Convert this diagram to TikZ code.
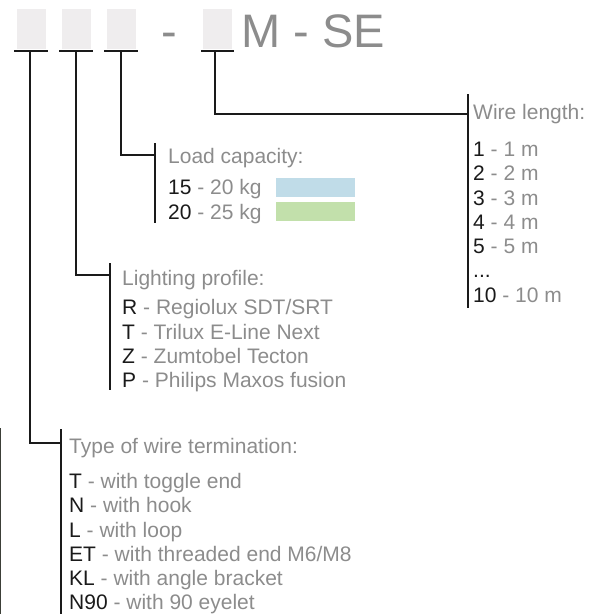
\documentclass[tikz,border=0pt]{standalone}
\usepackage{fontspec}
\setmainfont{Liberation Sans}
\definecolor{txtgray}{HTML}{8C8C8C}
\definecolor{ink}{HTML}{1A1A1A}
\definecolor{boxgray}{HTML}{EFEDEE}
\definecolor{swblue}{HTML}{C0DCE8}
\definecolor{swgreen}{HTML}{C2E0AB}
\definecolor{edgeline}{HTML}{3C3F38}
\newcommand{\cd}[1]{\textcolor{ink}{#1}}
\tikzset{
  slot/.style={fill=boxgray, draw=none, minimum width=29pt, minimum height=40pt, inner sep=0pt},
  wire/.style={draw=ink, line width=1.8pt},
  bar/.style={draw=ink, line width=2pt},
  lbl/.style={anchor=base west, inner sep=0pt, font=\fontsize{21}{25}\selectfont, text=txtgray},
  big/.style={anchor=base west, inner sep=0pt, font=\fontsize{47}{50}\selectfont, text=txtgray},
  swatch/.style={draw=none, minimum width=79pt, minimum height=19pt, inner sep=0pt}
}
\begin{document}
\begin{tikzpicture}[x=1pt,y=-1pt]
\useasboundingbox (0,0) rectangle (598,614);
% slots
\node[slot] (b1) at (31.5,28.5) {};
\node[slot] (b2) at (76.5,28.5) {};
\node[slot] (b3) at (121.5,28.5) {};
\node[slot] (b4) at (217.5,28.5) {};
\node[big] (dash) at (161,47) {-};
\node[big] (mse) at (241.5,47) {M - SE};
% underlines
\draw[wire] (14,51) -- (48,51);
\draw[wire] (59,51) -- (93,51);
\draw[wire] (104,51) -- (138,51);
\draw[wire] (201,51) -- (234,51);
\coordinate (u1) at (30,51);
\coordinate (u2) at (76,51);
\coordinate (u3) at (121,51);
\coordinate (u4) at (215,51);
% bars
\coordinate (wbT) at (468,94); \coordinate (wbB) at (468,308); \coordinate (wj) at (468,114);
\coordinate (lbT) at (155,143); \coordinate (lbB) at (155,223); \coordinate (lj) at (155,155);
\coordinate (pbT) at (110,263); \coordinate (pbB) at (110,390); \coordinate (pj) at (110,275);
\coordinate (tbT) at (61,429); \coordinate (tbB) at (61,614); \coordinate (tj) at (61,443);
\draw[bar] (wbT) -- (wbB);
\draw[bar] (lbT) -- (lbB);
\draw[bar] (pbT) -- (pbB);
\draw[bar] (tbT) -- (tbB);
% connectors
\draw[wire] (u4) |- (wj);
\draw[wire] (u3) |- (lj);
\draw[wire] (u2) |- (pj);
\draw[wire] (u1) |- (tj);
% wire length
\node[lbl] (wh) at (473,119) {Wire length:};
\node[lbl] (w1) at (473,156) {\cd{1} - 1 m};
\node[lbl] (w2) at (473,180) {\cd{2} - 2 m};
\node[lbl] (w3) at (473,205) {\cd{3} - 3 m};
\node[lbl] (w4) at (473,229) {\cd{4} - 4 m};
\node[lbl] (w5) at (473,253) {\cd{5} - 5 m};
\node[lbl] (w6) at (473,277) {\cd{...}};
\node[lbl] (w7) at (473,302) {\cd{10} - 10 m};
% load capacity
\node[lbl] (lh) at (168,163) {Load capacity:};
\node[lbl] (l1) at (168,194) {\cd{15} - 20 kg};
\node[lbl] (l2) at (168,219) {\cd{20} - 25 kg};
\node[swatch, fill=swblue] (s1) at (315.5,187.5) {};
\node[swatch, fill=swgreen] (s2) at (315.5,211.5) {};
% lighting profile
\node[lbl] (ph) at (122,285) {Lighting profile:};
\node[lbl] (p1) at (122,314) {\cd{R} - Regiolux SDT/SRT};
\node[lbl] (p2) at (122,339) {\cd{T} - Trilux E-Line Next};
\node[lbl] (p3) at (122,363) {\cd{Z} - Zumtobel Tecton};
\node[lbl] (p4) at (122,387) {\cd{P} - Philips Maxos fusion};
% termination
\node[lbl] (th) at (69,453) {Type of wire termination:};
\node[lbl] (t1) at (69,488) {\cd{T} - with toggle end};
\node[lbl] (t2) at (69,512) {\cd{N} - with hook};
\node[lbl] (t3) at (69,537) {\cd{L} - with loop};
\node[lbl] (t4) at (69,561) {\cd{ET} - with threaded end M6/M8};
\node[lbl] (t5) at (69,585) {\cd{KL} - with angle bracket};
\node[lbl] (t6) at (69,609) {\cd{N90} - with 90 eyelet};
% left edge line
\draw[edgeline, line width=1.2pt] (0.6,428) -- (0.6,614);
\end{tikzpicture}
\end{document}
